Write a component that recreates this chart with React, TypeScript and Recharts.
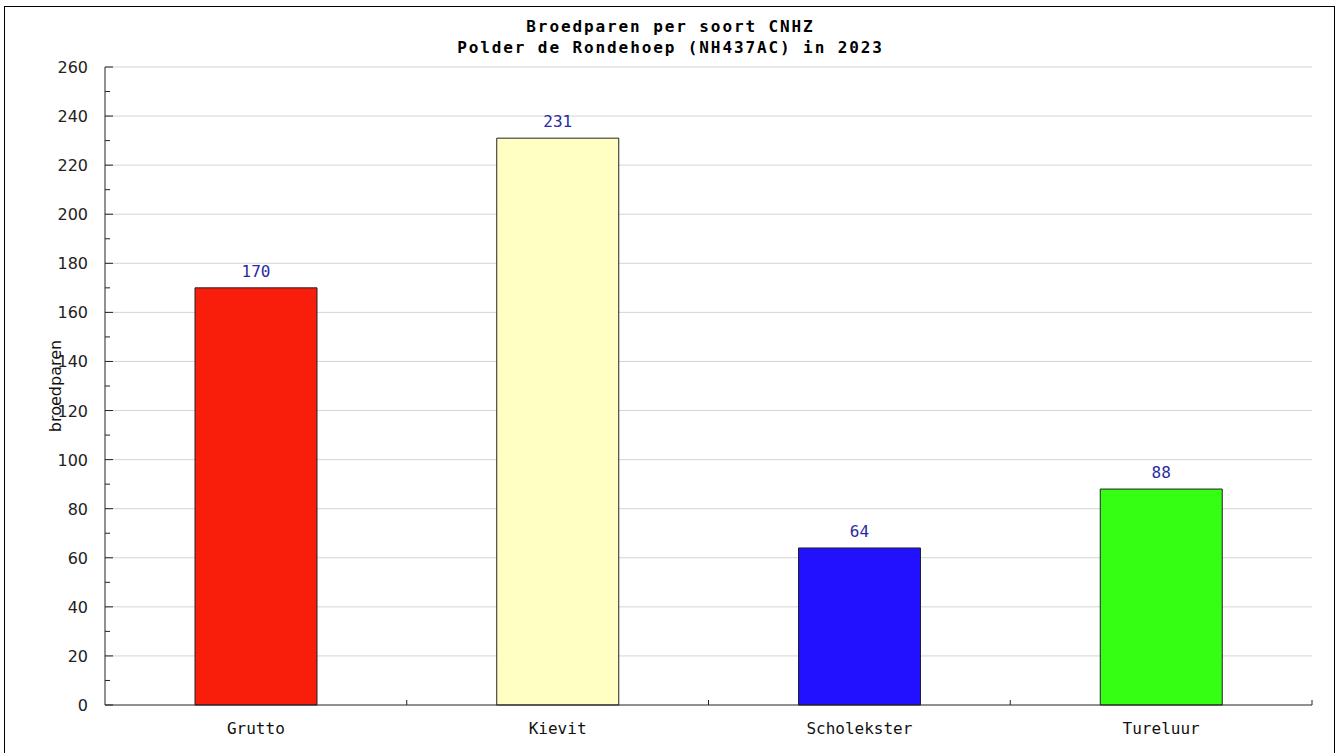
import React from 'react';
import { BarChart, Bar, XAxis, YAxis, CartesianGrid, Cell, LabelList, Label } from 'recharts';

const soorten = ['Grutto', 'Kievit', 'Scholekster', 'Tureluur'];
const broedparen = [170, 231, 64, 88];
const kleuren = ['#f91d0b', '#ffffc4', '#2211ff', '#35ff13'];
const yTicks = [0, 10, 20, 30, 40, 50, 60, 70, 80, 90, 100, 110, 120, 130, 140, 150, 160, 170, 180, 190, 200, 210, 220, 230, 240, 250, 260];
const gridValues = [20, 40, 60, 80, 100, 120, 140, 160, 180, 200, 220, 240, 260];
const categoryEdges = [1, 2, 3, 4];

const data = soorten.map((soort, i) => ({ soort, aantal: broedparen[i], rand: i + 0.5 }));

const mono = '"DejaVu Sans Mono", monospace';
const sans = '"DejaVu Sans", sans-serif';

// y-axis ticks point inwards; only every second one carries a label
const YTick = ({ x, y, payload }: any) => {
  const major = payload.value % 20 === 0;
  return (
    <g>
      <line x1={x} x2={x + (major ? 8 : 5)} y1={y} y2={y} stroke="#222" strokeWidth={1} />
      {major && (
        <text x={x - 17} y={y} dy={6} textAnchor="end" fill="#222" fontSize={16} fontFamily={sans}>
          {payload.value}
        </text>
      )}
    </g>
  );
};

// small upward marks between the categories
const EdgeTick = ({ x, y }: any) => <line x1={x} x2={x} y1={y} y2={y - 5} stroke="#222" strokeWidth={1} />;

export default function App() {
  return (
    <div style={{ position: 'absolute', left: 0, top: 0, width: 1341, height: 753, overflow: 'hidden', background: '#fff' }}>
      <div style={{ position: 'absolute', left: 4, top: 6, width: 1329, height: 800, border: '1px solid #000' }} />
      <div
        style={{
          position: 'absolute',
          left: 0,
          top: 0,
          width: 1341,
          textAlign: 'center',
          fontFamily: mono,
          fontWeight: 'bold',
          fontSize: 16,
          letterSpacing: 1.9,
          color: '#000',
        }}
      >
        <div style={{ position: 'absolute', left: 0, width: 1341, top: 17, lineHeight: '20px' }}>Broedparen per soort CNHZ</div>
        <div style={{ position: 'absolute', left: 0, width: 1341, top: 38, lineHeight: '20px' }}>Polder de Rondehoep (NH437AC) in 2023</div>
      </div>
      <div style={{ position: 'absolute', left: 0, top: 0 }}>
        <BarChart
          width={1341}
          height={753}
          data={data}
          margin={{ top: 67, right: 29, bottom: 18, left: 45 }}
          barSize={122}
        >
          <CartesianGrid vertical={false} horizontalValues={gridValues} stroke="#d4d4d4" />
          <XAxis
            xAxisId="edges"
            dataKey="rand"
            type="number"
            domain={[0, 4]}
            ticks={categoryEdges}
            interval={0}
            allowDataOverflow
            mirror
            height={1}
            stroke="#222"
            tickLine={false}
            tickSize={0}
            tickMargin={0}
            tick={<EdgeTick />}
          />
          <XAxis
            dataKey="soort"
            height={30}
            axisLine={false}
            tickLine={false}
            tickSize={0}
            tickMargin={18}
            tick={{ fill: '#111', fontSize: 16, fontFamily: mono }}
          />
          <YAxis
            width={60}
            domain={[0, 260]}
            ticks={yTicks}
            interval={0}
            stroke="#222"
            tickLine={false}
            tickSize={0}
            tickMargin={0}
            tick={<YTick />}
          >
            <Label
              value="broedparen"
              angle={-90}
              position="insideLeft"
              offset={10}
              style={{ textAnchor: 'middle', fill: '#111', fontSize: 16, fontFamily: sans }}
            />
          </YAxis>
          <Bar dataKey="aantal" stroke="#222" strokeWidth={1} isAnimationActive={false}>
            {data.map((d, i) => (
              <Cell key={d.soort} fill={kleuren[i]} />
            ))}
            <LabelList dataKey="aantal" position="top" offset={11} fill="#2a2aa5" fontSize={16} fontFamily={mono} />
          </Bar>
        </BarChart>
      </div>
    </div>
  );
}
